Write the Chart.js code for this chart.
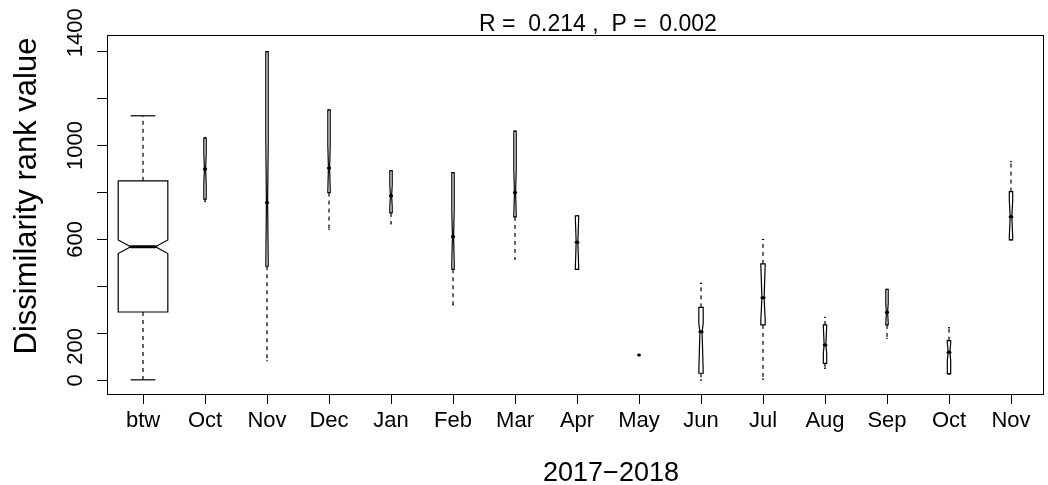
<!DOCTYPE html>
<html>
<head>
<meta charset="utf-8">
<script src="https://cdn.jsdelivr.net/npm/chart.js@4.4.1/dist/chart.umd.min.js"></script>
<style>
  html, body { margin: 0; padding: 0; background: #fff; }
  canvas { display: block; }
</style>
</head>
<body>
<canvas id="anosim" width="1048" height="485"></canvas>
<script>
// groups on the x axis
var groups = ['btw', 'Oct', 'Nov', 'Dec', 'Jan', 'Feb', 'Mar', 'Apr', 'May', 'Jun', 'Jul', 'Aug', 'Sep', 'Oct', 'Nov'];
// number of pairs in each group (box width ~ sqrt(n))
var counts = [1297, 3, 3, 3, 3, 3, 3, 6, 1, 10, 10, 6, 3, 6, 6];
// box statistics
var whiskerLow  = [2, 761, 84, 643, 666, 321, 516, 473, 108, 1, 5, 51, 179, 27, 598];
var q1          = [291, 772, 486, 800, 713, 473, 696, 473, 108, 30, 236, 72, 236, 27, 598];
var notchLow    = [540, 832, 500, 808, 740, 500, 705, 480, 108, 40, 257, 116, 245, 86, 612];
var medians     = [569, 900, 758, 905, 786, 613, 800, 588, 108, 207, 352, 150, 290, 120, 697];
var notchHigh   = [598, 968, 1017, 1003, 832, 726, 896, 695, 108, 243, 490, 230, 328, 160, 768];
var q3          = [850, 1032, 1400, 1152, 893, 885, 1062, 701, 108, 311, 496, 236, 388, 169, 804];
var whiskerHigh = [1127, 1035, 1400, 1152, 893, 885, 1062, 701, 108, 413, 600, 268, 388, 224, 932];
// y axis ticks, and the ones R labelled
var yTicks = [0, 200, 400, 600, 800, 1000, 1200, 1400];
var yLabels = [0, 200, 600, 1000, 1400];

var FONT = '"Liberation Sans", Arial, Helvetica, sans-serif';
// small nudges of the vertical tick labels, as placed in the original
var yLabelNudge = { 200: 13, 1400: -19 };

function seg(ctx, x1, y1, x2, y2) {
  ctx.beginPath();
  ctx.moveTo(x1, y1);
  ctx.lineTo(x2, y2);
  ctx.stroke();
}

var boxPlugin = {
  id: 'rboxes',
  afterDatasetsDraw: function(chart) {
    var ctx = chart.ctx, x = chart.scales.x, y = chart.scales.y;
    var unit = x.getPixelForValue(2) - x.getPixelForValue(1);
    var nMax = Math.max.apply(null, counts);
    ctx.save();
    ctx.strokeStyle = '#000';
    groups.forEach(function(g, i) {
      var cx = x.getPixelForValue(i + 1);
      var hw = 0.4 * unit * Math.sqrt(counts[i] / nMax);
      var py = function(v) { return y.getPixelForValue(v); };
      ctx.lineWidth = 1.2;
      // whiskers
      ctx.setLineDash([4, 4]);
      if (whiskerHigh[i] > q3[i]) seg(ctx, cx, py(q3[i]), cx, py(whiskerHigh[i]));
      if (whiskerLow[i] < q1[i]) seg(ctx, cx, py(q1[i]), cx, py(whiskerLow[i]));
      ctx.setLineDash([]);
      seg(ctx, cx - hw / 2, py(whiskerHigh[i]), cx + hw / 2, py(whiskerHigh[i]));
      seg(ctx, cx - hw / 2, py(whiskerLow[i]), cx + hw / 2, py(whiskerLow[i]));
      // notched box
      ctx.beginPath();
      ctx.moveTo(cx - hw, py(q1[i]));
      ctx.lineTo(cx - hw, py(notchLow[i]));
      ctx.lineTo(cx - hw / 2, py(medians[i]));
      ctx.lineTo(cx - hw, py(notchHigh[i]));
      ctx.lineTo(cx - hw, py(q3[i]));
      ctx.lineTo(cx + hw, py(q3[i]));
      ctx.lineTo(cx + hw, py(notchHigh[i]));
      ctx.lineTo(cx + hw / 2, py(medians[i]));
      ctx.lineTo(cx + hw, py(notchLow[i]));
      ctx.lineTo(cx + hw, py(q1[i]));
      ctx.closePath();
      ctx.stroke();
      // median
      ctx.lineWidth = 3;
      ctx.lineCap = 'round';
      seg(ctx, cx - hw / 2, py(medians[i]), cx + hw / 2, py(medians[i]));
      ctx.lineCap = 'butt';
    });
    ctx.restore();
  },
  afterDraw: function(chart) {
    var ctx = chart.ctx, a = chart.chartArea, y = chart.scales.y;
    ctx.save();
    // frame
    ctx.strokeStyle = '#000';
    ctx.lineWidth = 1;
    ctx.strokeRect(Math.round(a.left) + 0.5, Math.round(a.top) + 0.5,
                   Math.round(a.right - a.left), Math.round(a.bottom - a.top));
    // y tick labels, vertical like R
    ctx.fillStyle = '#000';
    ctx.font = '22px ' + FONT;
    ctx.textAlign = 'center';
    ctx.textBaseline = 'alphabetic';
    yLabels.forEach(function(v) {
      ctx.save();
      ctx.translate(a.left - 25, y.getPixelForValue(v) + (yLabelNudge[v] || 0));
      ctx.rotate(-Math.PI / 2);
      ctx.fillText(String(v), 0, 0);
      ctx.restore();
    });
    // y axis title
    ctx.save();
    ctx.font = '31px ' + FONT;
    ctx.translate(36, 196);
    ctx.rotate(-Math.PI / 2);
    ctx.fillText('Dissimilarity rank value', 0, 0);
    ctx.restore();
    // x axis title
    ctx.font = '27px ' + FONT;
    ctx.fillText('2017\u22122018', 611, 481);
    // title
    ctx.font = '23px ' + FONT;
    ctx.fillText('R =  0.214 ,  P =  0.002', 598, 31);
    ctx.restore();
  }
};

var config = {
  type: 'scatter',
  data: {
    datasets: [{
      data: medians.map(function(m, i) { return {x: i + 1, y: m}; }),
      pointRadius: 0
    }]
  },
  options: {
    responsive: false,
    animation: false,
    layout: { padding: { top: 35, right: 5, left: 0, bottom: 0 } },
    plugins: { legend: { display: false }, tooltip: { enabled: false } },
    scales: {
      x: {
        type: 'linear',
        min: 0.419,
        max: 15.516,
        afterBuildTicks: function(s) { s.ticks = groups.map(function(g, i) { return {value: i + 1}; }); },
        afterFit: function(s) { s.height = 91; },
        ticks: {
          autoSkip: false, maxRotation: 0, minRotation: 0, padding: 4, color: '#000',
          font: { family: FONT, size: 22 },
          callback: function(v) { return groups[v - 1]; }
        },
        grid: { drawOnChartArea: false, drawTicks: true, tickLength: 10, color: '#000' },
        border: { display: false }
      },
      y: {
        type: 'linear',
        min: -58.4,
        max: 1471.2,
        afterBuildTicks: function(s) { s.ticks = yTicks.map(function(v) { return {value: v}; }); },
        afterFit: function(s) { s.width = 107; },
        ticks: { display: false },
        grid: { drawOnChartArea: false, drawTicks: true, tickLength: 10, color: '#000' },
        border: { display: false }
      }
    }
  },
  plugins: [boxPlugin]
};

window.onload = function() {
  var ctx = document.getElementById('anosim').getContext('2d');
  window.anosimChart = new Chart(ctx, config);
};
</script>
</body>
</html>
